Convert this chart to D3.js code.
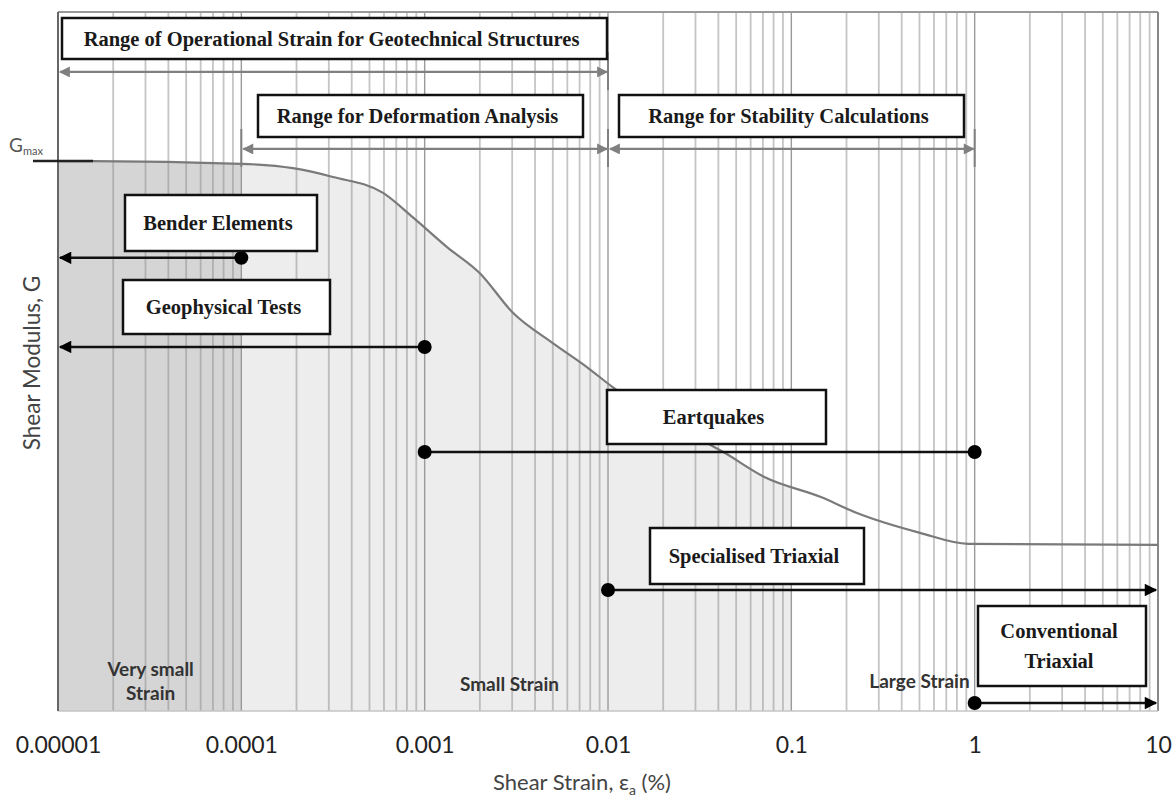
<!DOCTYPE html>
<html>
<head>
<meta charset="utf-8">
<script src="https://cdn.jsdelivr.net/npm/d3@7"></script>
<style>
  body { margin: 0; background: #fff; }
  svg { display: block; }
</style>
</head>
<body>
<div id="viz"></div>
<script>
// strain axis (%), tick labels
const tickValues = [1e-5, 1e-4, 1e-3, 1e-2, 1e-1, 1, 10];
const tickLabels = ["0.00001", "0.0001", "0.001", "0.01", "0.1", "1", "10"];

// G/Gmax degradation curve
const curveStrain = [1e-5, 1.55e-5, 1e-4, 1.91e-4, 3.16e-4, 5.93e-4, 8.6e-4, 1.32e-3, 2.0e-3, 3.03e-3, 5.0e-3, 7.7e-3, 1.06e-2, 2.05e-2, 4.35e-2, 7.18e-2, 0.145, 0.228, 0.503, 0.92, 10];
const curveG      = [1.0, 1.0, 0.995, 0.987, 0.971, 0.942, 0.898, 0.844, 0.796, 0.724, 0.669, 0.625, 0.589, 0.529, 0.469, 0.425, 0.389, 0.36, 0.324, 0.304, 0.302];

// shaded strain zones under the curve
const zoneFrom  = [1e-5, 1e-4];
const zoneTo    = [1e-4, 0.1];
const zoneColor = ["#d5d5d5", "#ededed"];

// strain ranges (gray dimension arrows)
const rangeNames = ["Range of Operational Strain for Geotechnical Structures", "Range for Deformation Analysis", "Range for Stability Calculations"];
const rangeFrom  = [1e-5, 1e-4, 1e-2];
const rangeTo    = [1e-2, 1e-2, 1];
const rangeLevel = [1.162, 1.022, 1.022];

// testing methods (black arrows)
const testNames = [["Bender Elements"], ["Geophysical Tests"], ["Eartquakes"], ["Specialised Triaxial"], ["Conventional", "Triaxial"]];
const testFrom  = [1e-4, 1e-3, 1e-3, 1e-2, 1];
const testTo    = [1e-5, 1e-5, 1, 10, 10];
const testDotEnd = [false, false, true, false, false];
const testLevel = [0.824, 0.662, 0.471, 0.22, 0.0145];

// zone names
const zoneNames = [["Very small", "Strain"], ["Small Strain"], ["Large Strain"]];
const zoneNameX = [3.2e-5, 2.9e-3, 0.5];

const width = 1176, height = 801;
const mLeft = 58, mRight = 1158, mTop = 12, mBottom = 711;

const x = d3.scaleLog().domain([1e-5, 10]).range([mLeft, mRight]);
const y = d3.scaleLinear().domain([0, 1.271]).range([mBottom, mTop]);

const svg = d3.select("#viz").append("svg")
  .attr("width", width).attr("height", height);

const defs = svg.append("defs");
[["grayHead", "#808080"], ["blackHead", "#000"]].forEach(([id, c]) => {
  defs.append("marker")
    .attr("id", id).attr("viewBox", "0 0 10 10")
    .attr("refX", 9).attr("refY", 5)
    .attr("markerWidth", 5.5).attr("markerHeight", 5)
    .attr("markerUnits", "strokeWidth")
    .attr("orient", "auto-start-reverse")
    .append("path").attr("d", "M0,0 L10,5 L0,10 Z").attr("fill", c);
});

const curve = curveStrain.map((s, i) => ({ s: s, g: curveG[i] }));
const gAt = s => {
  for (let i = 1; i < curve.length; i++) {
    if (s <= curve[i].s) {
      const a = curve[i - 1], b = curve[i];
      const t = (Math.log10(s) - Math.log10(a.s)) / (Math.log10(b.s) - Math.log10(a.s));
      return a.g + t * (b.g - a.g);
    }
  }
  return curve[curve.length - 1].g;
};

// fills under the curve
const area = d3.area().x(d => x(d.s)).y0(mBottom).y1(d => y(d.g)).curve(d3.curveMonotoneX);
zoneFrom.forEach((f, i) => {
  const t = zoneTo[i];
  const pts = [{ s: f, g: gAt(f) }]
    .concat(curve.filter(d => d.s > f && d.s < t))
    .concat([{ s: t, g: gAt(t) }]);
  svg.append("path").attr("d", area(pts)).attr("fill", zoneColor[i]);
});

// vertical grid
const majors = tickValues.map(v => Math.round(Math.log10(v)));
const isMajor = d => majors.includes(Math.round(Math.log10(d) * 1000) / 1000);
svg.append("g").selectAll("line")
  .data(x.ticks())
  .join("line")
  .attr("x1", d => x(d)).attr("x2", d => x(d))
  .attr("y1", mTop).attr("y2", mBottom)
  .attr("stroke", d => isMajor(d) ? "#9a9a9a" : "rgba(140,140,140,0.5)")
  .attr("stroke-width", d => isMajor(d) ? 1.4 : 1.8);

// frame
svg.append("line").attr("x1", mLeft).attr("x2", mRight).attr("y1", mTop).attr("y2", mTop)
  .attr("stroke", "#999").attr("stroke-width", 2);
svg.append("line").attr("x1", mRight).attr("x2", mRight).attr("y1", mTop).attr("y2", mBottom)
  .attr("stroke", "#888").attr("stroke-width", 2);
svg.append("line").attr("x1", mLeft).attr("x2", mRight).attr("y1", mBottom).attr("y2", mBottom)
  .attr("stroke", "#c4c4c4").attr("stroke-width", 1.5);
svg.append("line").attr("x1", mLeft).attr("x2", mLeft).attr("y1", mTop).attr("y2", mBottom)
  .attr("stroke", "#666").attr("stroke-width", 2);

// curve
svg.append("path")
  .attr("d", d3.line().x(d => x(d.s)).y(d => y(d.g)).curve(d3.curveMonotoneX)(curve))
  .attr("fill", "none").attr("stroke", "#7a7a7a").attr("stroke-width", 2.2);

// Gmax mark
svg.append("line").attr("x1", 33).attr("x2", 93).attr("y1", y(1)).attr("y2", y(1))
  .attr("stroke", "#222").attr("stroke-width", 2.5);
const gm = svg.append("text").attr("x", 9).attr("y", y(1) - 9)
  .attr("font-family", "Lato, sans-serif").attr("font-size", 19).attr("fill", "#555");
gm.append("tspan").text("G");
gm.append("tspan").attr("font-size", 11).attr("dy", 3).text("max");

// gray range arrows with end ticks
rangeNames.forEach((n, i) => {
  const yy = y(rangeLevel[i]);
  svg.append("line")
    .attr("x1", x(rangeFrom[i]) + 2).attr("x2", x(rangeTo[i]) - 1)
    .attr("y1", yy).attr("y2", yy)
    .attr("stroke", "#808080").attr("stroke-width", 2.2)
    .attr("marker-start", "url(#grayHead)").attr("marker-end", "url(#grayHead)");
  [rangeFrom[i], rangeTo[i]].forEach(v => {
    if (v === 1e-5) return;
    svg.append("line").attr("x1", x(v)).attr("x2", x(v))
      .attr("y1", yy - 20).attr("y2", yy + 18)
      .attr("stroke", "#808080").attr("stroke-width", 2);
  });
});

// label boxes [x0, y0, x1, y1]
const serif = "'Liberation Serif', 'Times New Roman', serif";
function box(b, lines, size) {
  svg.append("rect").attr("x", b[0]).attr("y", b[1])
    .attr("width", b[2] - b[0]).attr("height", b[3] - b[1])
    .attr("fill", "#fff").attr("stroke", "#111").attr("stroke-width", 2.5);
  const cy = (b[1] + b[3]) / 2, lh = 30;
  lines.forEach((t, j) => {
    svg.append("text")
      .attr("x", (b[0] + b[2]) / 2 - 3)
      .attr("y", cy + (j - (lines.length - 1) / 2) * lh)
      .attr("dy", "0.35em")
      .attr("text-anchor", "middle")
      .attr("font-family", serif).attr("font-weight", "bold")
      .attr("font-size", size).attr("fill", "#1a1a1a")
      .text(t);
  });
}
const rangeBoxes = [[62, 18, 607, 59], [258, 95, 583, 137], [619, 95, 964, 137]];
rangeNames.forEach((n, i) => box(rangeBoxes[i], [n], 20.5));

const testBoxes = [[125, 195, 317, 251], [123, 280, 330, 334], [607, 390, 826, 444], [650, 528, 864, 584], [978, 606, 1146, 686]];

// black test arrows
testNames.forEach((n, i) => {
  const yy = y(testLevel[i]);
  const x0 = x(testFrom[i]), x1 = x(testTo[i]);
  const dir = x1 > x0 ? 1 : -1;
  svg.append("line")
    .attr("x1", x0).attr("x2", testDotEnd[i] ? x1 : x1 - dir * 2)
    .attr("y1", yy).attr("y2", yy)
    .attr("stroke", "#111").attr("stroke-width", 2.5)
    .attr("marker-end", testDotEnd[i] ? null : "url(#blackHead)");
  svg.append("circle").attr("cx", x0).attr("cy", yy).attr("r", 7).attr("fill", "#000");
  if (testDotEnd[i]) svg.append("circle").attr("cx", x1).attr("cy", yy).attr("r", 7).attr("fill", "#000");
});
testNames.forEach((n, i) => box(testBoxes[i], n, 20.5));

// zone names
const zoneNameY = [[676, 700], [691], [688]];
zoneNames.forEach((lines, i) => {
  lines.forEach((t, j) => {
    svg.append("text")
      .attr("x", x(zoneNameX[i]))
      .attr("y", zoneNameY[i][j])
      .attr("text-anchor", "middle")
      .attr("font-family", "Lato, sans-serif").attr("font-weight", "bold")
      .attr("font-size", 19).attr("fill", "#333")
      .text(t);
  });
});

// x axis labels
const xAxis = d3.axisBottom(x)
  .tickValues(tickValues)
  .tickSize(0).tickPadding(0)
  .tickFormat((d, i) => tickLabels[i]);
const ax = svg.append("g").attr("transform", `translate(0,${mBottom + 26})`).call(xAxis);
ax.select(".domain").remove();
ax.selectAll("text")
  .attr("font-family", "Lato, sans-serif").attr("font-size", 23)
  .attr("fill", "#222");

// axis titles
const xt = svg.append("text").attr("x", 582).attr("y", 790)
  .attr("text-anchor", "middle")
  .attr("font-family", "Lato, sans-serif").attr("font-size", 22).attr("fill", "#444");
xt.append("tspan").text("Shear Strain, ε");
xt.append("tspan").attr("font-size", 14).attr("dy", 5).text("a");
xt.append("tspan").attr("dy", -5).text(" (%)");

svg.append("text")
  .attr("transform", "translate(40,363) rotate(-90)")
  .attr("text-anchor", "middle")
  .attr("font-family", "Lato, sans-serif").attr("font-size", 22.5).attr("fill", "#444")
  .text("Shear Modulus, G");
</script>
</body>
</html>
